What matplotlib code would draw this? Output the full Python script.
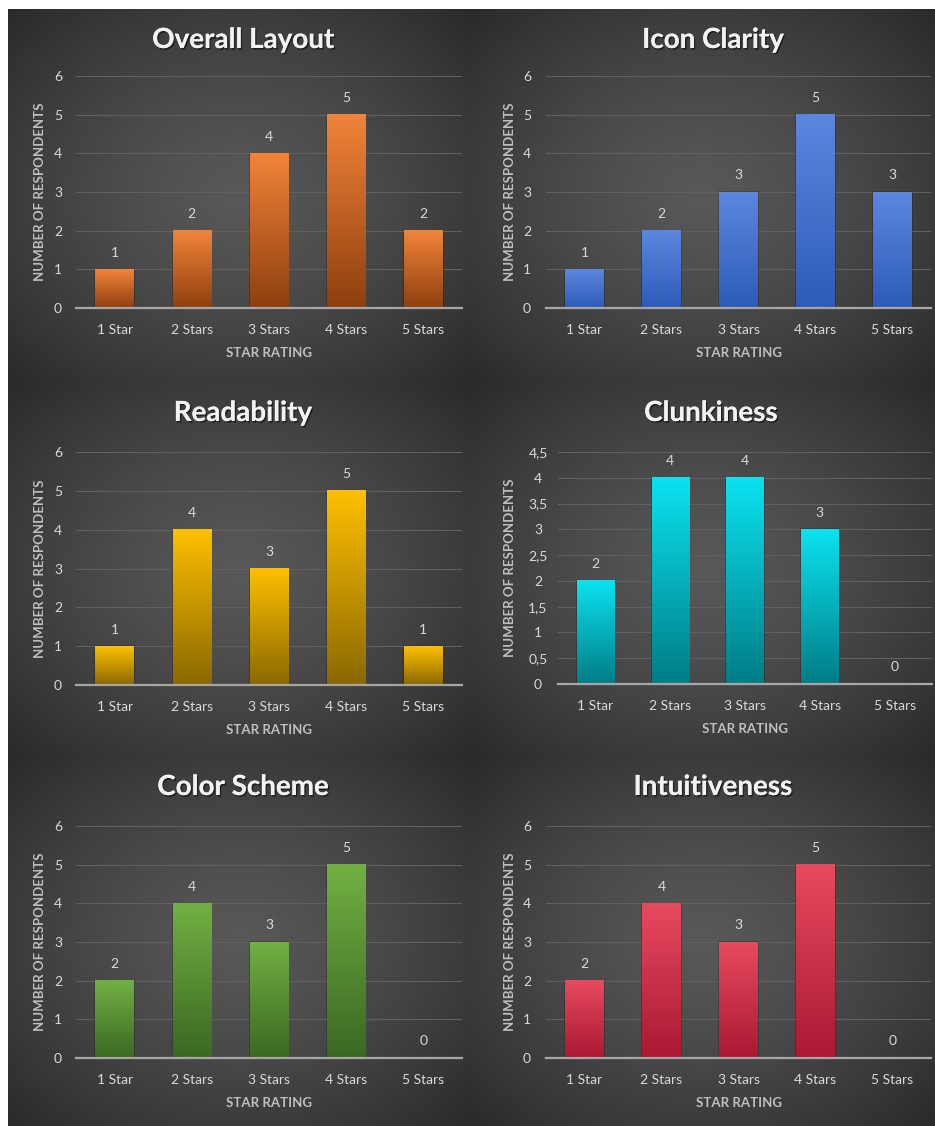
import numpy as np
import matplotlib
matplotlib.use("Agg")
import matplotlib.pyplot as plt
import matplotlib.patheffects as pe
from matplotlib.colors import LinearSegmentedColormap

# ---------------- data ----------------
categories = ['1 Star', '2 Stars', '3 Stars', '4 Stars', '5 Stars']
overall_layout = [1, 2, 4, 5, 2]
icon_clarity = [1, 2, 3, 5, 3]
readability = [1, 4, 3, 5, 1]
clunkiness = [2, 4, 4, 3, 0]
color_scheme = [2, 4, 3, 5, 0]
intuitiveness = [2, 4, 3, 5, 0]

titles = ['Overall Layout', 'Icon Clarity', 'Readability', 'Clunkiness',
          'Color Scheme', 'Intuitiveness']
series = [overall_layout, icon_clarity, readability, clunkiness,
          color_scheme, intuitiveness]

int_ticks = [0, 1, 2, 3, 4, 5, 6]
int_tick_labels = ['0', '1', '2', '3', '4', '5', '6']
half_ticks = [0, 0.5, 1, 1.5, 2, 2.5, 3, 3.5, 4, 4.5]
half_tick_labels = ['0', '0,5', '1', '1,5', '2', '2,5', '3', '3,5', '4', '4,5']

# ---------------- style ----------------
W, H = 935, 1126
FONT = 'Lato'
plt.rcParams['font.family'] = [FONT, 'DejaVu Sans']

bar_colors = [('#F2843A', '#8E3F0E'),
              ('#5B88DE', '#2C5BB8'),
              ('#FFC000', '#8A6800'),
              ('#0BE3F0', '#007C86'),
              ('#72B043', '#3A6822'),
              ('#E84A60', '#AA1832')]

# panel rectangles (pixels)
col_x = [(8, 470), (470, 935)]
row_y = [(9, 382), (382, 756), (756, 1126)]

# axes rectangles (pixels): left, right, top, bottom
ax_rects = [(76, 462, 76, 308), (546, 931, 76, 308),
            (76, 462, 452, 685), (558, 932, 452, 684),
            (76, 462, 826, 1058), (546, 931, 826, 1058)]
title_x = [243, 713, 243, 711, 243, 713]
ylabel_x = [40, 510, 40, 510, 40, 510]
tick_center_x = [58, 527, 58, 538, 58, 527]

fig = plt.figure(figsize=(W / 100, H / 100), dpi=100)
fig.patch.set_facecolor('white')

# background: radial gradient per panel
bg = np.ones((H, W, 3))
yy, xx = np.mgrid[0:H, 0:W]
for (x0, x1) in col_x:
    for (y0, y1) in row_y:
        cx, cy = (x0 + x1) / 2, (y0 + y1) / 2
        u = (xx[y0:y1, x0:x1] - cx) / ((x1 - x0) / 2)
        v = (yy[y0:y1, x0:x1] - cy) / ((y1 - y0) / 2)
        r = np.clip(np.sqrt(u ** 2 + v ** 2) / np.sqrt(2), 0, 1)
        val = 0.345 - 0.18 * r ** 1.3
        bg[y0:y1, x0:x1, :] = val[..., None]
bgax = fig.add_axes([0, 0, 1, 1])
bgax.imshow(bg, extent=(0, W, H, 0), aspect='auto', interpolation='bilinear')
bgax.set_xlim(0, W)
bgax.set_ylim(H, 0)
bgax.axis('off')
bgax.set_zorder(0)

for i, (vals, title) in enumerate(zip(series, titles)):
    l, r_, t, b = ax_rects[i]
    ax = fig.add_axes([l / W, 1 - b / H, (r_ - l) / W, (b - t) / H])
    ax.set_zorder(1)
    ax.patch.set_alpha(0)
    x = np.arange(len(categories))
    bars = ax.bar(x, vals, width=0.5, color='none', edgecolor='none', zorder=3)
    top_c, bot_c = bar_colors[i]
    cmap = LinearSegmentedColormap.from_list('g%d' % i, [bot_c, top_c])
    grad = np.linspace(1, 0, 256).reshape(-1, 1)
    for bar in bars:
        h = bar.get_height()
        if h <= 0:
            continue
        bx, bw = bar.get_x(), bar.get_width()
        ax.add_patch(plt.Rectangle((bx - 0.012, 0), bw + 0.024, h + 0.02,
                                   color='black', alpha=0.18, zorder=2, lw=0))
        ax.imshow(grad, extent=(bx, bx + bw, 0, h), aspect='auto', cmap=cmap,
                  zorder=3, interpolation='bilinear')
    for bar, v in zip(bars, vals):
        ax.annotate(str(v), (bar.get_x() + bar.get_width() / 2, bar.get_height()),
                    xytext=(0, 12), textcoords='offset points', ha='center',
                    va='center', color='#D9D9D9', fontsize=10, zorder=4)
    ax.set_xlim(-0.5, len(categories) - 0.5)
    if i == 3:
        ax.set_ylim(0, 4.5)
        ax.set_yticks(half_ticks)
        ax.set_yticklabels(half_tick_labels)
    else:
        ax.set_ylim(0, 6)
        ax.set_yticks(int_ticks)
        ax.set_yticklabels(int_tick_labels)
    ax.set_xticks(x)
    ax.set_xticklabels(categories)
    ax.grid(axis='y', color='#606060', lw=0.8, zorder=1)
    ax.set_axisbelow(True)
    for s in ['top', 'right', 'left']:
        ax.spines[s].set_visible(False)
    ax.spines['bottom'].set_color('#A6A6A6')
    ax.spines['bottom'].set_linewidth(1.6)
    ax.spines['bottom'].set_zorder(5)
    pad_px = l - tick_center_x[i]
    ax.tick_params(axis='y', length=0, pad=pad_px * 0.72, labelcolor='#D9D9D9',
                   labelsize=10)
    for lab in ax.get_yticklabels():
        lab.set_ha('center')
    ax.tick_params(axis='x', length=0, pad=11.5, labelcolor='#D9D9D9', labelsize=10)
    hpx = b - t
    ax.text(0.5, -45 / hpx, 'STAR RATING', transform=ax.transAxes, ha='center',
            va='center', color='#BFBFBF', fontsize=9.5, fontweight='bold')
    ax.text((ylabel_x[i] - l) / (r_ - l), 0.5, 'NUMBER OF RESPONDENTS',
            transform=ax.transAxes, ha='center', va='center', rotation=90,
            color='#BFBFBF', fontsize=9.5, fontweight='bold')
    row = i // 2
    ty = row_y[row][0] + 31
    fig.text(title_x[i] / W, 1 - ty / H, title, ha='center', va='center',
             color='#F2F2F2', fontsize=20, fontweight='bold',
             path_effects=[pe.withSimplePatchShadow(offset=(1, -1.2),
                                                    shadow_rgbFace='black',
                                                    alpha=0.5),
                           pe.Normal()])

fig.savefig('out.png', dpi=100, facecolor=fig.get_facecolor())
